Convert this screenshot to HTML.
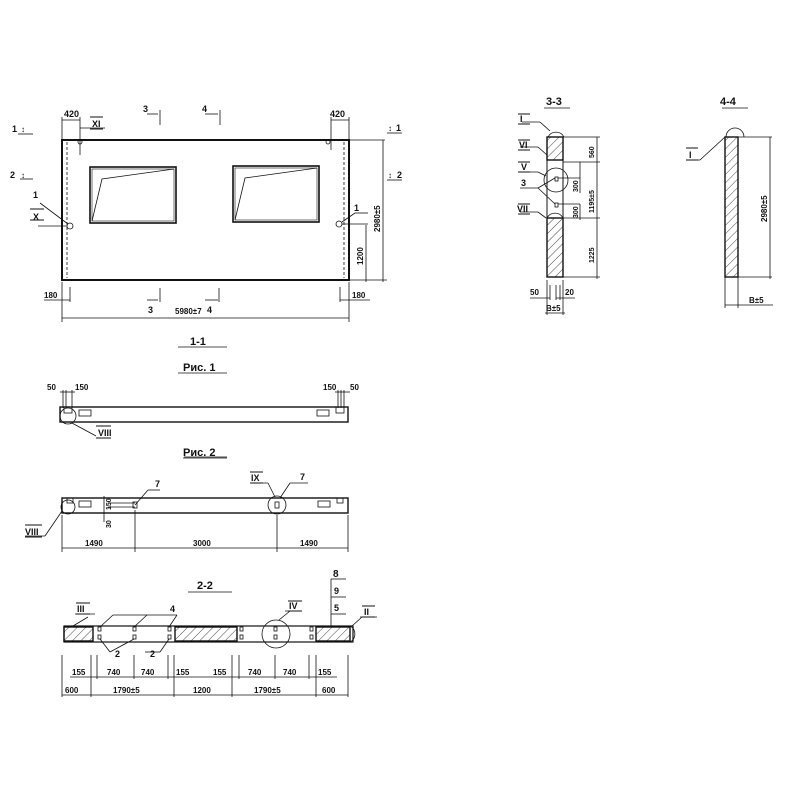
<!DOCTYPE html>
<html><head><meta charset="utf-8"><style>
html,body{margin:0;padding:0;background:#fff}
svg{display:block}
text{font-family:"Liberation Sans","DejaVu Sans",sans-serif;font-weight:bold;fill:#111}
</style></head><body>
<svg width="800" height="800" viewBox="0 0 800 800" xmlns="http://www.w3.org/2000/svg">
<defs>
<pattern id="h" width="6" height="6" patternUnits="userSpaceOnUse" patternTransform="rotate(45)">
<line x1="0" y1="0" x2="0" y2="6" stroke="#333" stroke-width="0.9"/>
</pattern>
</defs>
<g stroke="#111" fill="none" stroke-width="0.8">
<!-- MAIN PANEL -->
<rect x="62" y="140" width="287" height="140" stroke-width="2"/>
<line x1="67" y1="142" x2="67" y2="278" stroke-dasharray="3,2"/>
<line x1="344" y1="142" x2="344" y2="278" stroke-dasharray="3,2"/>
<rect x="90" y="167" width="86" height="56" stroke-width="1.6"/>
<rect x="92" y="169" width="82" height="52" stroke-width="0.6"/>
<polyline points="92,221 102,179 174,169"/>
<rect x="233" y="166" width="86" height="56" stroke-width="1.6"/>
<rect x="235" y="168" width="82" height="52" stroke-width="0.6"/>
<polyline points="235,220 245,178 317,168"/>
<!-- top dims 420 -->
<line x1="62" y1="120" x2="80" y2="120"/><line x1="62" y1="117" x2="62" y2="140"/><line x1="80" y1="117" x2="80" y2="155"/>
<line x1="331" y1="120" x2="349" y2="120"/><line x1="331" y1="117" x2="331" y2="150"/><line x1="349" y1="117" x2="349" y2="140"/>
<line x1="80" y1="128" x2="105" y2="128"/>
<circle cx="80" cy="142" r="2"/><circle cx="328" cy="142" r="2"/>
<!-- section marks -->
<line x1="18" y1="134" x2="33" y2="134"/><line x1="20" y1="179" x2="33" y2="179"/>
<line x1="387" y1="133" x2="402" y2="133"/><line x1="387" y1="180" x2="402" y2="180"/>
<line x1="160" y1="110" x2="160" y2="125"/><line x1="220" y1="110" x2="220" y2="125"/>
<line x1="160" y1="288" x2="160" y2="302"/><line x1="219" y1="288" x2="219" y2="302"/>
<line x1="147" y1="114" x2="158" y2="114"/><line x1="205" y1="114" x2="218" y2="114"/>
<line x1="147" y1="300" x2="158" y2="300"/><line x1="205" y1="300" x2="218" y2="300"/>
<!-- left/right items -->
<circle cx="70" cy="226" r="3"/><circle cx="339" cy="224" r="3"/>
<line x1="38" y1="226" x2="67" y2="226"/><line x1="40" y1="203" x2="68" y2="224"/>
<line x1="342" y1="224" x2="368" y2="224"/><line x1="342" y1="222" x2="355" y2="213"/><line x1="355" y1="213" x2="368" y2="213"/>
<!-- right dims -->
<line x1="349" y1="140" x2="385" y2="140"/><line x1="383" y1="140" x2="383" y2="282"/>
<line x1="349" y1="280" x2="387" y2="280"/>
<line x1="366" y1="225" x2="366" y2="282"/>
<!-- bottom dims -->
<line x1="62" y1="282" x2="62" y2="322"/><line x1="349" y1="282" x2="349" y2="322"/>
<line x1="62" y1="318" x2="349" y2="318"/>
<line x1="70" y1="287" x2="70" y2="302"/><line x1="340" y1="287" x2="340" y2="302"/>
<line x1="44" y1="300" x2="70" y2="300"/><line x1="340" y1="300" x2="370" y2="300"/>
<!-- 1-1 / Рис 1 -->
<line x1="178" y1="347" x2="227" y2="347"/><line x1="178" y1="373" x2="227" y2="373"/>
<rect x="60" y="407" width="288" height="15" stroke-width="1.4"/>
<rect x="64" y="407" width="8" height="6"/><rect x="79" y="410" width="12" height="6"/>
<rect x="336" y="407" width="8" height="6"/><rect x="317" y="410" width="12" height="6"/>
<line x1="63" y1="390" x2="63" y2="408"/><line x1="66" y1="390" x2="66" y2="408"/><line x1="72" y1="390" x2="72" y2="408"/>
<line x1="344" y1="390" x2="344" y2="408"/><line x1="338" y1="390" x2="338" y2="408"/><line x1="341" y1="390" x2="341" y2="408"/>
<line x1="60" y1="392" x2="75" y2="392"/><line x1="335" y1="392" x2="350" y2="392"/>
<circle cx="68" cy="416" r="8"/>
<line x1="72" y1="423" x2="96" y2="436"/>
<line x1="184" y1="457" x2="227" y2="457"/><line x1="168" y1="460" x2="0" y2="460" stroke="none"/>
<line x1="183" y1="458" x2="227" y2="458"/>
<!-- Рис 2 -->
<rect x="62" y="498" width="286" height="15" stroke-width="1.4"/>
<rect x="67" y="498" width="6" height="5"/><rect x="79" y="501" width="12" height="6"/>
<rect x="337" y="498" width="6" height="5"/><rect x="318" y="501" width="12" height="6"/>
<line x1="108" y1="503" x2="135" y2="503"/><line x1="108" y1="507" x2="135" y2="507"/>
<rect x="133" y="502" width="4" height="6"/><rect x="275" y="502" width="4" height="6"/>
<circle cx="68" cy="507" r="7"/><circle cx="277" cy="505" r="9"/>
<line x1="135" y1="505" x2="148" y2="490"/><line x1="148" y1="490" x2="160" y2="490"/>
<line x1="280" y1="498" x2="290" y2="483"/><line x1="290" y1="483" x2="308" y2="483"/>
<line x1="268" y1="483" x2="275" y2="497"/><line x1="250" y1="483" x2="268" y2="483"/>
<line x1="62" y1="511" x2="45" y2="536"/><line x1="25" y1="536" x2="45" y2="536"/>
<line x1="104" y1="496" x2="104" y2="522"/>
<line x1="62" y1="515" x2="62" y2="552"/><line x1="135" y1="510" x2="135" y2="552"/><line x1="277" y1="515" x2="277" y2="552"/><line x1="348" y1="515" x2="348" y2="552"/>
<line x1="62" y1="548" x2="348" y2="548"/>
<!-- 2-2 -->
<line x1="188" y1="592" x2="232" y2="592"/>
<rect x="64" y="626" width="289" height="16" stroke-width="1.2"/>
<rect x="64" y="627" width="29" height="14" fill="url(#h)" stroke-width="1.4"/>
<rect x="175" y="627" width="62" height="14" fill="url(#h)" stroke-width="1.4"/>
<rect x="316" y="627" width="34" height="14" fill="url(#h)" stroke-width="1.4"/>
<g stroke-width="0.8">
<rect x="98" y="627" width="3" height="4"/><rect x="98" y="635" width="3" height="4"/>
<rect x="133" y="627" width="3" height="4"/><rect x="133" y="635" width="3" height="4"/>
<rect x="168" y="627" width="3" height="4"/><rect x="168" y="635" width="3" height="4"/>
<rect x="240" y="627" width="3" height="4"/><rect x="240" y="635" width="3" height="4"/>
<rect x="274" y="627" width="3" height="4"/><rect x="274" y="635" width="3" height="4"/>
<rect x="310" y="627" width="3" height="4"/><rect x="310" y="635" width="3" height="4"/>
</g>
<circle cx="276" cy="634" r="14"/>
<path d="M350,626 A9,9 0 0 1 350,642"/>
<line x1="100" y1="627" x2="113" y2="615"/><line x1="134" y1="627" x2="147" y2="615"/><line x1="169" y1="627" x2="177" y2="615"/><line x1="113" y1="615" x2="177" y2="615"/>
<line x1="100" y1="639" x2="110" y2="652"/><line x1="134" y1="639" x2="110" y2="652"/>
<line x1="169" y1="639" x2="160" y2="652"/><line x1="145" y1="652" x2="160" y2="652"/>
<line x1="73" y1="626" x2="88" y2="617"/><line x1="75" y1="614" x2="95" y2="614"/>
<line x1="279" y1="620" x2="290" y2="611"/><line x1="285" y1="611" x2="302" y2="611"/>
<line x1="352" y1="626" x2="362" y2="617"/><line x1="360" y1="617" x2="377" y2="617"/>
<line x1="331" y1="626" x2="331" y2="579"/><line x1="331" y1="579" x2="346" y2="579"/><line x1="331" y1="597" x2="346" y2="597"/><line x1="331" y1="614" x2="346" y2="614"/>
<g>
<line x1="62" y1="655" x2="62" y2="697"/><line x1="91" y1="655" x2="91" y2="697"/><line x1="97" y1="655" x2="97" y2="679"/>
<line x1="134" y1="655" x2="134" y2="679"/><line x1="168" y1="655" x2="168" y2="679"/><line x1="174" y1="655" x2="174" y2="697"/>
<line x1="232" y1="655" x2="232" y2="697"/><line x1="239" y1="655" x2="239" y2="679"/><line x1="275" y1="655" x2="275" y2="679"/>
<line x1="309" y1="655" x2="309" y2="679"/><line x1="316" y1="655" x2="316" y2="697"/><line x1="348" y1="655" x2="348" y2="697"/>
<line x1="70" y1="677" x2="337" y2="677"/>
<line x1="62" y1="695" x2="348" y2="695"/>
</g>
<!-- 3-3 -->
<line x1="544" y1="108" x2="570" y2="108"/>
<rect x="547" y="137" width="16" height="140" stroke-width="1"/>
<rect x="547" y="137" width="16" height="23" fill="url(#h)" stroke-width="1.4"/>
<rect x="547" y="218" width="16" height="59" fill="url(#h)" stroke-width="1.4"/>
<rect x="555" y="177" width="3" height="4"/><rect x="555" y="203" width="3" height="4"/>
<path d="M548,137 A9,9 0 0 1 564,137"/>
<circle cx="556" cy="180" r="12"/>
<path d="M547,218 A9,9 0 0 1 563,218"/>
<line x1="563" y1="137" x2="600" y2="137"/><line x1="597" y1="137" x2="597" y2="279"/>
<line x1="563" y1="162" x2="600" y2="162"/><line x1="563" y1="218" x2="600" y2="218"/><line x1="563" y1="277" x2="600" y2="277"/>
<line x1="558" y1="178" x2="580" y2="178"/><line x1="580" y1="162" x2="580" y2="193"/>
<line x1="558" y1="204" x2="580" y2="204"/><line x1="580" y1="204" x2="580" y2="220"/>
<line x1="522" y1="122" x2="540" y2="122"/><line x1="540" y1="122" x2="550" y2="131"/>
<line x1="520" y1="147" x2="538" y2="147"/><line x1="538" y1="147" x2="547" y2="155"/>
<line x1="520" y1="172" x2="538" y2="172"/><line x1="538" y1="172" x2="546" y2="176"/>
<line x1="520" y1="188" x2="538" y2="188"/><line x1="538" y1="188" x2="555" y2="178"/><line x1="538" y1="188" x2="555" y2="204"/>
<line x1="520" y1="212" x2="538" y2="212"/><line x1="538" y1="212" x2="546" y2="218"/>
<line x1="547" y1="280" x2="547" y2="315"/><line x1="550" y1="285" x2="550" y2="300"/>
<line x1="556" y1="285" x2="556" y2="300"/><line x1="560" y1="285" x2="560" y2="300"/><line x1="563" y1="280" x2="563" y2="315"/>
<line x1="530" y1="298" x2="550" y2="298"/><line x1="556" y1="298" x2="575" y2="298"/>
<line x1="545" y1="313" x2="565" y2="313"/>
<!-- 4-4 -->
<line x1="722" y1="108" x2="748" y2="108"/>
<rect x="725" y="137" width="13" height="140" fill="url(#h)" stroke-width="1.4"/>
<path d="M726,137 A9,9 0 0 1 744,137"/>
<line x1="738" y1="137" x2="772" y2="137"/><line x1="770" y1="137" x2="770" y2="279"/><line x1="738" y1="277" x2="772" y2="277"/>
<line x1="725" y1="277" x2="725" y2="308"/><line x1="738" y1="277" x2="738" y2="308"/>
<line x1="725" y1="305" x2="773" y2="305"/>
<line x1="686" y1="160" x2="700" y2="160"/><line x1="700" y1="160" x2="725" y2="137"/>
<!-- roman overlines -->
<g stroke-width="1">
<line x1="90" y1="117" x2="103" y2="117"/><line x1="90" y1="129" x2="103" y2="129"/>
<line x1="30" y1="209" x2="44" y2="209"/><line x1="30" y1="220" x2="44" y2="220"/>
<line x1="518" y1="114" x2="530" y2="114"/><line x1="518" y1="124" x2="530" y2="124"/>
<line x1="518" y1="140" x2="530" y2="140"/><line x1="518" y1="150" x2="530" y2="150"/>
<line x1="518" y1="162" x2="530" y2="162"/><line x1="518" y1="172" x2="530" y2="172"/>
<line x1="518" y1="204" x2="530" y2="204"/><line x1="518" y1="214" x2="530" y2="214"/>
<line x1="686" y1="148" x2="698" y2="148"/><line x1="686" y1="160" x2="698" y2="160"/>
<line x1="96" y1="426" x2="111" y2="426"/><line x1="96" y1="438" x2="111" y2="438"/>
<line x1="25" y1="525" x2="42" y2="525"/><line x1="25" y1="537" x2="42" y2="537"/>
<line x1="250" y1="472" x2="263" y2="472"/><line x1="250" y1="483" x2="263" y2="483"/>
<line x1="76" y1="603" x2="90" y2="603"/><line x1="76" y1="614" x2="90" y2="614"/>
<line x1="288" y1="601" x2="302" y2="601"/><line x1="288" y1="611" x2="302" y2="611"/>
<line x1="362" y1="606" x2="375" y2="606"/><line x1="362" y1="617" x2="375" y2="617"/>
</g>
</g>
<g font-size="9">
<text x="64" y="117">420</text><text x="330" y="117">420</text>
<text x="92" y="127">XI</text>
<text x="143" y="112">3</text><text x="202" y="112">4</text>
<text x="12" y="132">1</text><text x="21" y="132" font-size="8">↕</text>
<text x="396" y="131">1</text><text x="388" y="131" font-size="8">↕</text>
<text x="10" y="178">2</text><text x="21" y="178" font-size="8">↕</text>
<text x="397" y="178">2</text><text x="388" y="178" font-size="8">↕</text>
<text x="33" y="198">1</text><text x="33" y="220">X</text><text x="354" y="211">1</text>
<text x="44" y="298" font-size="8">180</text><text x="352" y="298" font-size="8">180</text>
<text x="148" y="313">3</text><text x="207" y="313">4</text>
<text x="175" y="314" font-size="8">5980±7</text>
<text transform="translate(380,232) rotate(-90)" font-size="8">2980±5</text>
<text transform="translate(363,265) rotate(-90)" font-size="8">1200</text>
<text x="190" y="345" font-size="11">1-1</text>
<text x="183" y="371" font-size="11">Рис. 1</text>
<text x="47" y="390" font-size="8">50</text><text x="75" y="390" font-size="8">150</text>
<text x="323" y="390" font-size="8">150</text><text x="350" y="390" font-size="8">50</text>
<text x="98" y="436">VIII</text>
<text x="183" y="456" font-size="11">Рис. 2</text>
<text x="155" y="487">7</text><text x="300" y="480">7</text><text x="251" y="481">IX</text>
<text x="25" y="535">VIII</text>
<text transform="translate(111,510) rotate(-90)" font-size="7">150</text>
<text transform="translate(111,528) rotate(-90)" font-size="7">30</text>
<text x="85" y="546" font-size="8">1490</text><text x="193" y="546" font-size="8">3000</text><text x="300" y="546" font-size="8">1490</text>
<text x="197" y="589" font-size="11">2-2</text>
<text x="333" y="577" font-size="10">8</text><text x="334" y="594">9</text><text x="334" y="611">5</text>
<text x="77" y="612">III</text><text x="289" y="609">IV</text><text x="364" y="615">II</text>
<text x="170" y="612">4</text><text x="115" y="657">2</text><text x="150" y="657">2</text>
<g font-size="8">
<text x="72" y="675">155</text><text x="107" y="675">740</text><text x="141" y="675">740</text><text x="176" y="675">155</text>
<text x="213" y="675">155</text><text x="248" y="675">740</text><text x="283" y="675">740</text><text x="318" y="675">155</text>
<text x="65" y="693">600</text><text x="113" y="693">1790±5</text><text x="193" y="693">1200</text><text x="254" y="693">1790±5</text><text x="322" y="693">600</text>
</g>
<text x="546" y="105" font-size="11">3-3</text>
<text x="720" y="105" font-size="11">4-4</text>
<text x="520" y="122">I</text><text x="519" y="148">VI</text><text x="521" y="170">V</text><text x="521" y="186">3</text><text x="517" y="212">VII</text>
<text x="689" y="158">I</text>
<g font-size="7">
<text transform="translate(594,158) rotate(-90)">560</text>
<text transform="translate(594,213) rotate(-90)">1195±5</text>
<text transform="translate(594,263) rotate(-90)">1225</text>
<text transform="translate(578,192) rotate(-90)">300</text>
<text transform="translate(578,218) rotate(-90)">300</text>
<text transform="translate(767,222) rotate(-90)" font-size="8">2980±5</text>
<text x="530" y="295" font-size="8">50</text><text x="565" y="295" font-size="8">20</text>
<text x="546" y="311" font-size="8">B±5</text>
<text x="749" y="303" font-size="8">B±5</text>
</g>
</g>
</svg>
</body></html>
